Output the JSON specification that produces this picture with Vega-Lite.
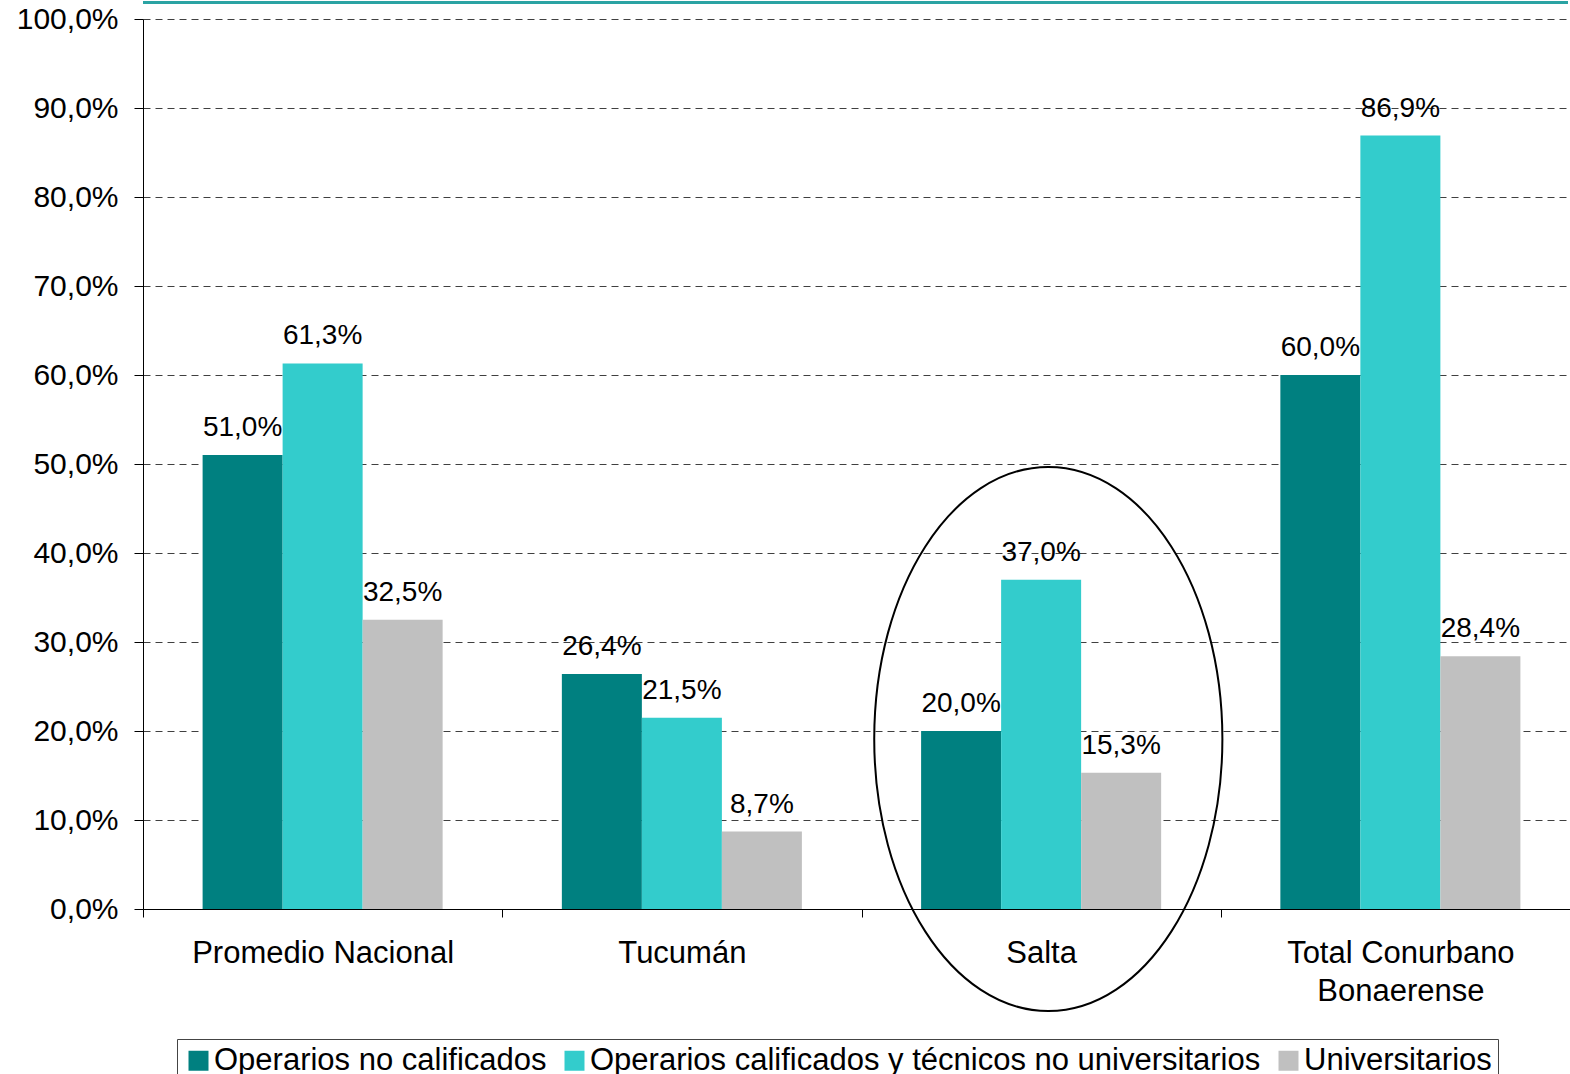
{
  "$schema": "https://vega.github.io/schema/vega-lite/v6.json",
  "width": 1425,
  "height": 890,
  "autosize": {"type": "none"},
  "padding": {"left": 143, "top": 19, "right": 2, "bottom": 165},
  "config": {
    "view": {"stroke": null},
    "font": "Liberation Sans",
    "axis": {"labelFont": "Liberation Sans", "labelColor": "#000000"},
    "legend": {"labelFont": "Liberation Sans"}
  },
  "layer": [
    {
      "data": {"values": [{"y": 101.85}]},
      "mark": {"type": "rule", "color": "#2aa3a3", "strokeWidth": 3},
      "encoding": {"y": {"field": "y", "type": "quantitative"}}
    },
    {
      "data": {
        "values": [
          {"cat": "Promedio Nacional", "grp": "Operarios no calificados", "v": 51.0},
          {"cat": "Promedio Nacional", "grp": "Operarios calificados y técnicos no universitarios", "v": 61.3},
          {"cat": "Promedio Nacional", "grp": "Universitarios", "v": 32.5},
          {"cat": "Tucumán", "grp": "Operarios no calificados", "v": 26.4},
          {"cat": "Tucumán", "grp": "Operarios calificados y técnicos no universitarios", "v": 21.5},
          {"cat": "Tucumán", "grp": "Universitarios", "v": 8.7},
          {"cat": "Salta", "grp": "Operarios no calificados", "v": 20.0},
          {"cat": "Salta", "grp": "Operarios calificados y técnicos no universitarios", "v": 37.0},
          {"cat": "Salta", "grp": "Universitarios", "v": 15.3},
          {"cat": "Total Conurbano Bonaerense", "grp": "Operarios no calificados", "v": 60.0},
          {"cat": "Total Conurbano Bonaerense", "grp": "Operarios calificados y técnicos no universitarios", "v": 86.9},
          {"cat": "Total Conurbano Bonaerense", "grp": "Universitarios", "v": 28.4}
        ]
      },
      "transform": [
        {"calculate": "replace(format(datum.v, '.1f'), '.', ',') + '%'", "as": "lbl"}
      ],
      "encoding": {
        "x": {
          "field": "cat",
          "type": "nominal",
          "sort": ["Promedio Nacional", "Tucumán", "Salta", "Total Conurbano Bonaerense"],
          "scale": {"paddingInner": 0, "paddingOuter": 0, "range": [0, 1437]},
          "axis": {
            "title": null,
            "labelAngle": 0,
            "labelFontSize": 31,
            "labelLineHeight": 38,
            "labelPadding": 21,
            "labelLimit": 0,
            "tickSize": 8,
            "tickBand": "extent",
            "tickColor": "#000000",
            "domainColor": "#000000",
            "grid": false,
            "labelExpr": "datum.label == 'Total Conurbano Bonaerense' ? ['Total Conurbano', 'Bonaerense'] : datum.label"
          }
        },
        "xOffset": {
          "field": "grp",
          "type": "nominal",
          "sort": ["Operarios no calificados", "Operarios calificados y técnicos no universitarios", "Universitarios"],
          "scale": {"paddingInner": 0, "paddingOuter": 0.745}
        },
        "y": {
          "field": "v",
          "type": "quantitative",
          "scale": {"domain": [0, 100], "nice": false},
          "axis": {
            "title": null,
            "values": [0, 10, 20, 30, 40, 50, 60, 70, 80, 90, 100],
            "labelExpr": "replace(format(datum.value, '.1f'), '.', ',') + '%'",
            "labelFontSize": 30,
            "labelPadding": 16,
            "tickSize": 9,
            "tickColor": "#000000",
            "domainColor": "#000000",
            "gridColor": "#404040",
            "gridDash": [7, 5],
            "gridWidth": 1
          }
        }
      },
      "layer": [
        {
          "mark": {"type": "bar"},
          "encoding": {
            "color": {
              "field": "grp",
              "type": "nominal",
              "sort": ["Operarios no calificados", "Operarios calificados y técnicos no universitarios", "Universitarios"],
              "scale": {"range": ["#008080", "#33CCCC", "#C0C0C0"]},
              "legend": {
                "title": null,
                "orient": "none",
                "direction": "horizontal",
                "legendX": 34,
                "legendY": 1020,
                "symbolType": "square",
                "symbolSize": 400,
                "symbolStrokeWidth": 0,
                "labelFontSize": 31,
                "labelColor": "#000000",
                "labelLimit": 2000,
                "labelOffset": 0,
                "columnPadding": 12,
                "padding": 6,
                "strokeColor": "#444444",
                "fillColor": "#ffffff"
              }
            }
          }
        },
        {
          "mark": {"type": "text", "fontSize": 28, "baseline": "alphabetic", "dy": -19, "color": "#000000", "font": "Liberation Sans"},
          "encoding": {"text": {"field": "lbl"}}
        }
      ]
    },
    {
      "data": {"values": [{"cat": "Salta", "v": 19.1}]},
      "mark": {
        "type": "point",
        "shape": "M0.64,0C0.64,0.5523,0.3535,1,0,1C-0.3535,1,-0.64,0.5523,-0.64,0C-0.64,-0.5523,-0.3535,-1,0,-1C0.3535,-1,0.64,-0.5523,0.64,0Z",
        "size": 295936,
        "filled": false,
        "stroke": "#000000",
        "strokeWidth": 2,
        "opacity": 1,
        "clip": false
      },
      "encoding": {
        "x": {
          "field": "cat",
          "type": "nominal",
          "bandPosition": 0.52,
          "sort": ["Promedio Nacional", "Tucumán", "Salta", "Total Conurbano Bonaerense"]
        },
        "y": {"field": "v", "type": "quantitative"}
      }
    }
  ]
}
